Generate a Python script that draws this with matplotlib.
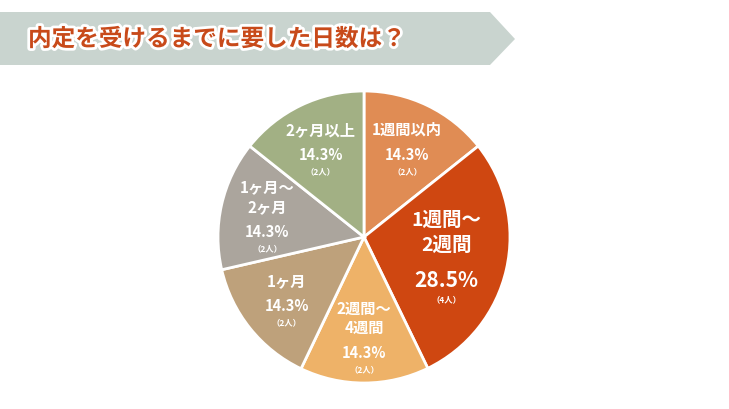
import matplotlib
matplotlib.use("Agg")
import matplotlib.pyplot as plt
import matplotlib.patheffects as pe
import numpy as np
from matplotlib.patches import Polygon

categories = ["1週間以内", "1週間～\n2週間", "2週間～\n4週間", "1ヶ月", "1ヶ月～\n2ヶ月", "2ヶ月以上"]
percents = [14.3, 28.5, 14.3, 14.3, 14.3, 14.3]
people = [2, 4, 2, 2, 2, 2]
colors = ["#E08C54", "#CF4711", "#EEB268", "#BEA17B", "#ABA59D", "#A2B084"]
title = "内定を受けるまでに要した日数は？"

W, H = 729, 410
fig = plt.figure(figsize=(W/100, H/100), dpi=100)
fig.patch.set_facecolor("white")
font = "Noto Sans CJK JP"

bax = fig.add_axes([0, 0, 1, 1])
bax.set_xlim(0, W); bax.set_ylim(H, 0); bax.axis("off")
bax.add_patch(Polygon([(0, 13), (490, 13), (515, 40), (490, 66), (0, 66)],
                      closed=True, color="#C9D4CF", lw=0))
bax.text(28, 40, title, fontsize=17, fontweight="bold", color="#C84A1A",
         family=font, va="center", ha="left",
         path_effects=[pe.withStroke(linewidth=4, foreground="white")])

cx, cy, R = 364, 238, 146
ax = fig.add_axes([(cx-R)/W, (H-cy-R)/H, 2*R/W, 2*R/H])
wedges, _ = ax.pie(percents, colors=colors, startangle=90, counterclock=False,
                   wedgeprops=dict(edgecolor="white", linewidth=2))
ax.set_xlim(-1, 1); ax.set_ylim(-1, 1); ax.set_aspect("equal"); ax.axis("off")

for i, w in enumerate(wedges):
    ang = np.deg2rad((w.theta1 + w.theta2) / 2)
    big = (i == 1)
    r = 0.58 if big else 0.68
    x, y = r*np.cos(ang), r*np.sin(ang)
    lines = categories[i].split("\n")
    fs_lab = 14 if big else 11
    fs_pct = 15 if big else 10.5
    lh = 0.17 if big else 0.135
    items = [(l, fs_lab, lh) for l in lines] + [(None, 0, 0.06 if big else 0.03),
             (f"{percents[i]}%", fs_pct, lh*1.1), (f"（{people[i]}人）", 6, 0.08)]
    total = sum(it[2] for it in items)
    yy = y + total/2
    for t, fs, h in items:
        yy -= h/2
        if t:
            ax.text(x, yy, t, fontsize=fs, fontweight="bold", color="white",
                    family=font, ha="center", va="center")
        yy -= h/2

fig.savefig("out.png", dpi=100, facecolor="white")
